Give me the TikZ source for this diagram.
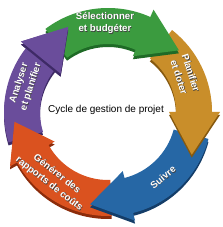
\documentclass[tikz,border=0pt]{standalone}
\usepackage{fontspec}
\setmainfont{Liberation Sans}
\definecolor{gface}{HTML}{3B9B3F}
\definecolor{gdark}{HTML}{1E6A26}
\definecolor{oface}{HTML}{C98E2A}
\definecolor{odark}{HTML}{86590F}
\definecolor{bface}{HTML}{2667A5}
\definecolor{bdark}{HTML}{143D68}
\definecolor{rface}{HTML}{DA521F}
\definecolor{rdark}{HTML}{8C2C0B}
\definecolor{pface}{HTML}{6A4D9B}
\definecolor{pdark}{HTML}{3E2A66}
\tikzset{
  lbltxt/.style={font=\bfseries\fontsize{9.7}{12.5}\selectfont, text=white, align=center, inner sep=0pt},
  lblshadow/.style={lbltxt, text=black!75},
}
% #1 tail angle, #2 barb angle, #3 tip angle, #4 face colour, #5 side colour
\newcommand\ringarrow[5]{%
  \foreach \cy/\col in {112pt/#5,115pt/#4}{%
    \fill[\col, shift={(108pt,\cy)}] (#1:104pt) arc[start angle=#1, end angle=#2, radius=104pt]
      -- (#2:112pt) -- (#3:94pt) -- (#2:61pt) -- (#2:68pt)
      arc[start angle=#2, end angle=#1, radius=68pt] -- cycle;}%
}
\newcommand\ringhead[4]{%
  \foreach \cy/\col in {112pt/#4,115pt/#3}{%
    \fill[\col, shift={(108pt,\cy)}] (#1:104pt) -- (#1:112pt) -- (#2:94pt) -- (#1:61pt) -- (#1:68pt) -- cycle;}%
}
\newcommand\lbl[4]{%
  \node[lblshadow, rotate=#3] (#1s) at ([xshift=0.6pt,yshift=-0.6pt]#2) {#4};
  \node[lbltxt, rotate=#3] (#1) at (#2) {#4};}
\begin{document}
\begin{tikzpicture}[x=1pt,y=1pt]
\useasboundingbox (0,0) rectangle (222,227);
\fill[white] (0,0) rectangle (222,227);
\ringarrow{197}{141}{115}{pface}{pdark}
\ringarrow{272}{209}{186}{rface}{rdark}
\ringarrow{345}{284}{259}{bface}{bdark}
\ringarrow{52}{0}{-27}{oface}{odark}
\ringarrow{127}{66}{41}{gface}{gdark}
\ringhead{141}{115}{pface}{pdark}
\lbl{sel}{105,204}{0}{Sélectionner\\et budgéter}
\lbl{pla}{185,152}{-72}{Planifier\\et doter}
\lbl{sui}{163,50}{40}{Suivre}
\lbl{gen}{53,48}{-38}{Générer des\\rapports de coûts}
\lbl{ana}{25,142}{72}{Analyser\\et planifier}
\node[font=\fontsize{10}{12}\selectfont, inner sep=0pt] (ctr) at (106,117) {Cycle de gestion de projet};
\end{tikzpicture}
\end{document}
